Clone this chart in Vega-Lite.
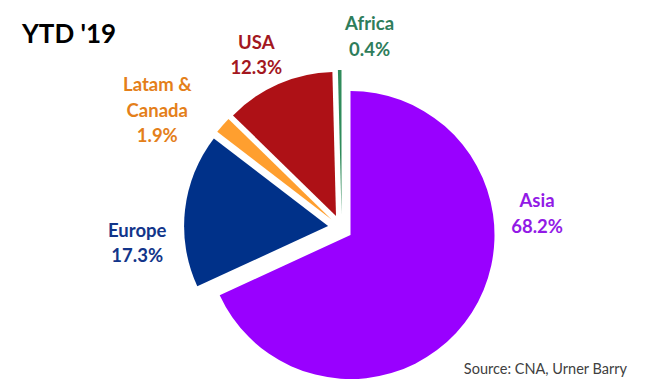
{
  "$schema": "https://vega.github.io/schema/vega-lite/v6.json",
  "autosize": {"type": "pad"},
  "padding": 0,
  "background": "white",
  "title": {"text": "YTD '19", "anchor": "start", "frame": "group", "orient": "top", "offset": -69, "dx": 22, "font": "Lato", "fontSize": 26, "fontWeight": "bold", "color": "#000000", "baseline": "alphabetic"},
  "config": {"view": {"stroke": null}},
  "vconcat": [
    {
      "width": 649,
      "height": 389,
      "title": {"text": "Source: CNA, Urner Barry", "orient": "bottom", "anchor": "end", "frame": "group", "offset": -26, "dx": -22, "font": "Lato", "fontSize": 14.5, "fontWeight": "normal", "color": "#404040", "baseline": "top"},
      "data": {"values": [
        {"region": "Asia", "value": 68.2},
        {"region": "Europe", "value": 17.3},
        {"region": "Latam & Canada", "value": 1.9},
        {"region": "USA", "value": 12.3},
        {"region": "Africa", "value": 0.4}
      ]},
      "transform": [
        {"stack": "value", "groupby": [], "as": ["v0", "v1"]},
        {"calculate": "(datum.v0 + datum.v1) / 2", "as": "mid"},
        {"calculate": "replace(datum.region, ' & ', ' &\\n') + '\\n' + format(datum.value, '.1f') + '%'", "as": "label"}
      ],
      "layer": [
        {
          "transform": [{"filter": "datum.region === 'Asia'"}],
          "layer": [
            {"mark": {"type": "arc", "outerRadius": 144, "xOffset": 26, "yOffset": 40.5},
             "encoding": {
               "theta": {"field": "v0", "type": "quantitative", "stack": null, "scale": {"domain": [0, 100.1], "nice": false}},
               "theta2": {"field": "v1"},
               "color": {"field": "region", "type": "nominal", "legend": null, "scale": {"domain": ["Asia", "Europe", "Latam & Canada", "USA", "Africa"], "range": ["#9900FF", "#003189", "#FF9F2F", "#AE1116", "#2F8B5B"]}}
             }},
            {"mark": {"type": "text", "radius": 158, "xOffset": 15.5, "yOffset": 32.5, "dx": 64, "dy": -111, "font": "Lato", "fontWeight": "bold", "fontSize": 18.5, "lineBreak": "\n", "lineHeight": 25.5, "fill": "#921AE6", "align": "center", "baseline": "middle"},
             "encoding": {
               "theta": {"field": "mid", "type": "quantitative", "stack": null, "scale": {"domain": [0, 100.1], "nice": false}},
               "text": {"field": "label"}
             }}
          ]
        },
        {
          "transform": [{"filter": "datum.region === 'Europe'"}],
          "layer": [
            {"mark": {"type": "arc", "outerRadius": 144, "xOffset": 3.6, "yOffset": 31.6},
             "encoding": {
               "theta": {"field": "v0", "type": "quantitative", "stack": null, "scale": {"domain": [0, 100.1], "nice": false}},
               "theta2": {"field": "v1"},
               "color": {"field": "region", "type": "nominal", "legend": null}
             }},
            {"mark": {"type": "text", "radius": 200, "xOffset": 15.5, "yOffset": 32.5, "dx": -4, "dy": 26, "font": "Lato", "fontWeight": "bold", "fontSize": 18.5, "lineBreak": "\n", "lineHeight": 25.5, "fill": "#12358A", "align": "center", "baseline": "middle"},
             "encoding": {
               "theta": {"field": "mid", "type": "quantitative", "stack": null},
               "text": {"field": "label"}
             }}
          ]
        },
        {
          "transform": [{"filter": "datum.region === 'Latam & Canada'"}],
          "layer": [
            {"mark": {"type": "arc", "outerRadius": 144, "xOffset": 7, "yOffset": 25},
             "encoding": {
               "theta": {"field": "v0", "type": "quantitative", "stack": null},
               "theta2": {"field": "v1"},
               "color": {"field": "region", "type": "nominal", "legend": null}
             }},
            {"mark": {"type": "text", "radius": 214, "xOffset": 15.5, "yOffset": 32.5, "dx": -21, "dy": -1.5, "font": "Lato", "fontWeight": "bold", "fontSize": 18.5, "lineBreak": "\n", "lineHeight": 25.5, "fill": "#E47F1A", "align": "center", "baseline": "middle"},
             "encoding": {
               "theta": {"field": "mid", "type": "quantitative", "stack": null},
               "text": {"field": "label"}
             }}
          ]
        },
        {
          "transform": [{"filter": "datum.region === 'USA'"}],
          "layer": [
            {"mark": {"type": "arc", "outerRadius": 144, "xOffset": 11.5, "yOffset": 21.5},
             "encoding": {
               "theta": {"field": "v0", "type": "quantitative", "stack": null},
               "theta2": {"field": "v1"},
               "color": {"field": "region", "type": "nominal", "legend": null}
             }},
            {"mark": {"type": "text", "radius": 187, "xOffset": 15.5, "yOffset": 32.5, "dx": -9, "dy": -13, "font": "Lato", "fontWeight": "bold", "fontSize": 18.5, "lineBreak": "\n", "lineHeight": 25.5, "fill": "#A3171E", "align": "center", "baseline": "middle"},
             "encoding": {
               "theta": {"field": "mid", "type": "quantitative", "stack": null},
               "text": {"field": "label"}
             }}
          ]
        },
        {
          "transform": [{"filter": "datum.region === 'Africa'"}],
          "layer": [
            {"mark": {"type": "arc", "outerRadius": 144, "xOffset": 17, "yOffset": 19.5},
             "encoding": {
               "theta": {"field": "v0", "type": "quantitative", "stack": null},
               "theta2": {"field": "v1"},
               "color": {"field": "region", "type": "nominal", "legend": null}
             }},
            {"mark": {"type": "text", "radius": 191, "xOffset": 15.5, "yOffset": 32.5, "dx": 32, "dy": -12, "font": "Lato", "fontWeight": "bold", "fontSize": 18.5, "lineBreak": "\n", "lineHeight": 25.5, "fill": "#2E7D5B", "align": "center", "baseline": "middle"},
             "encoding": {
               "theta": {"field": "mid", "type": "quantitative", "stack": null},
               "text": {"field": "label"}
             }}
          ]
        }
      ]
    }
  ]
}
